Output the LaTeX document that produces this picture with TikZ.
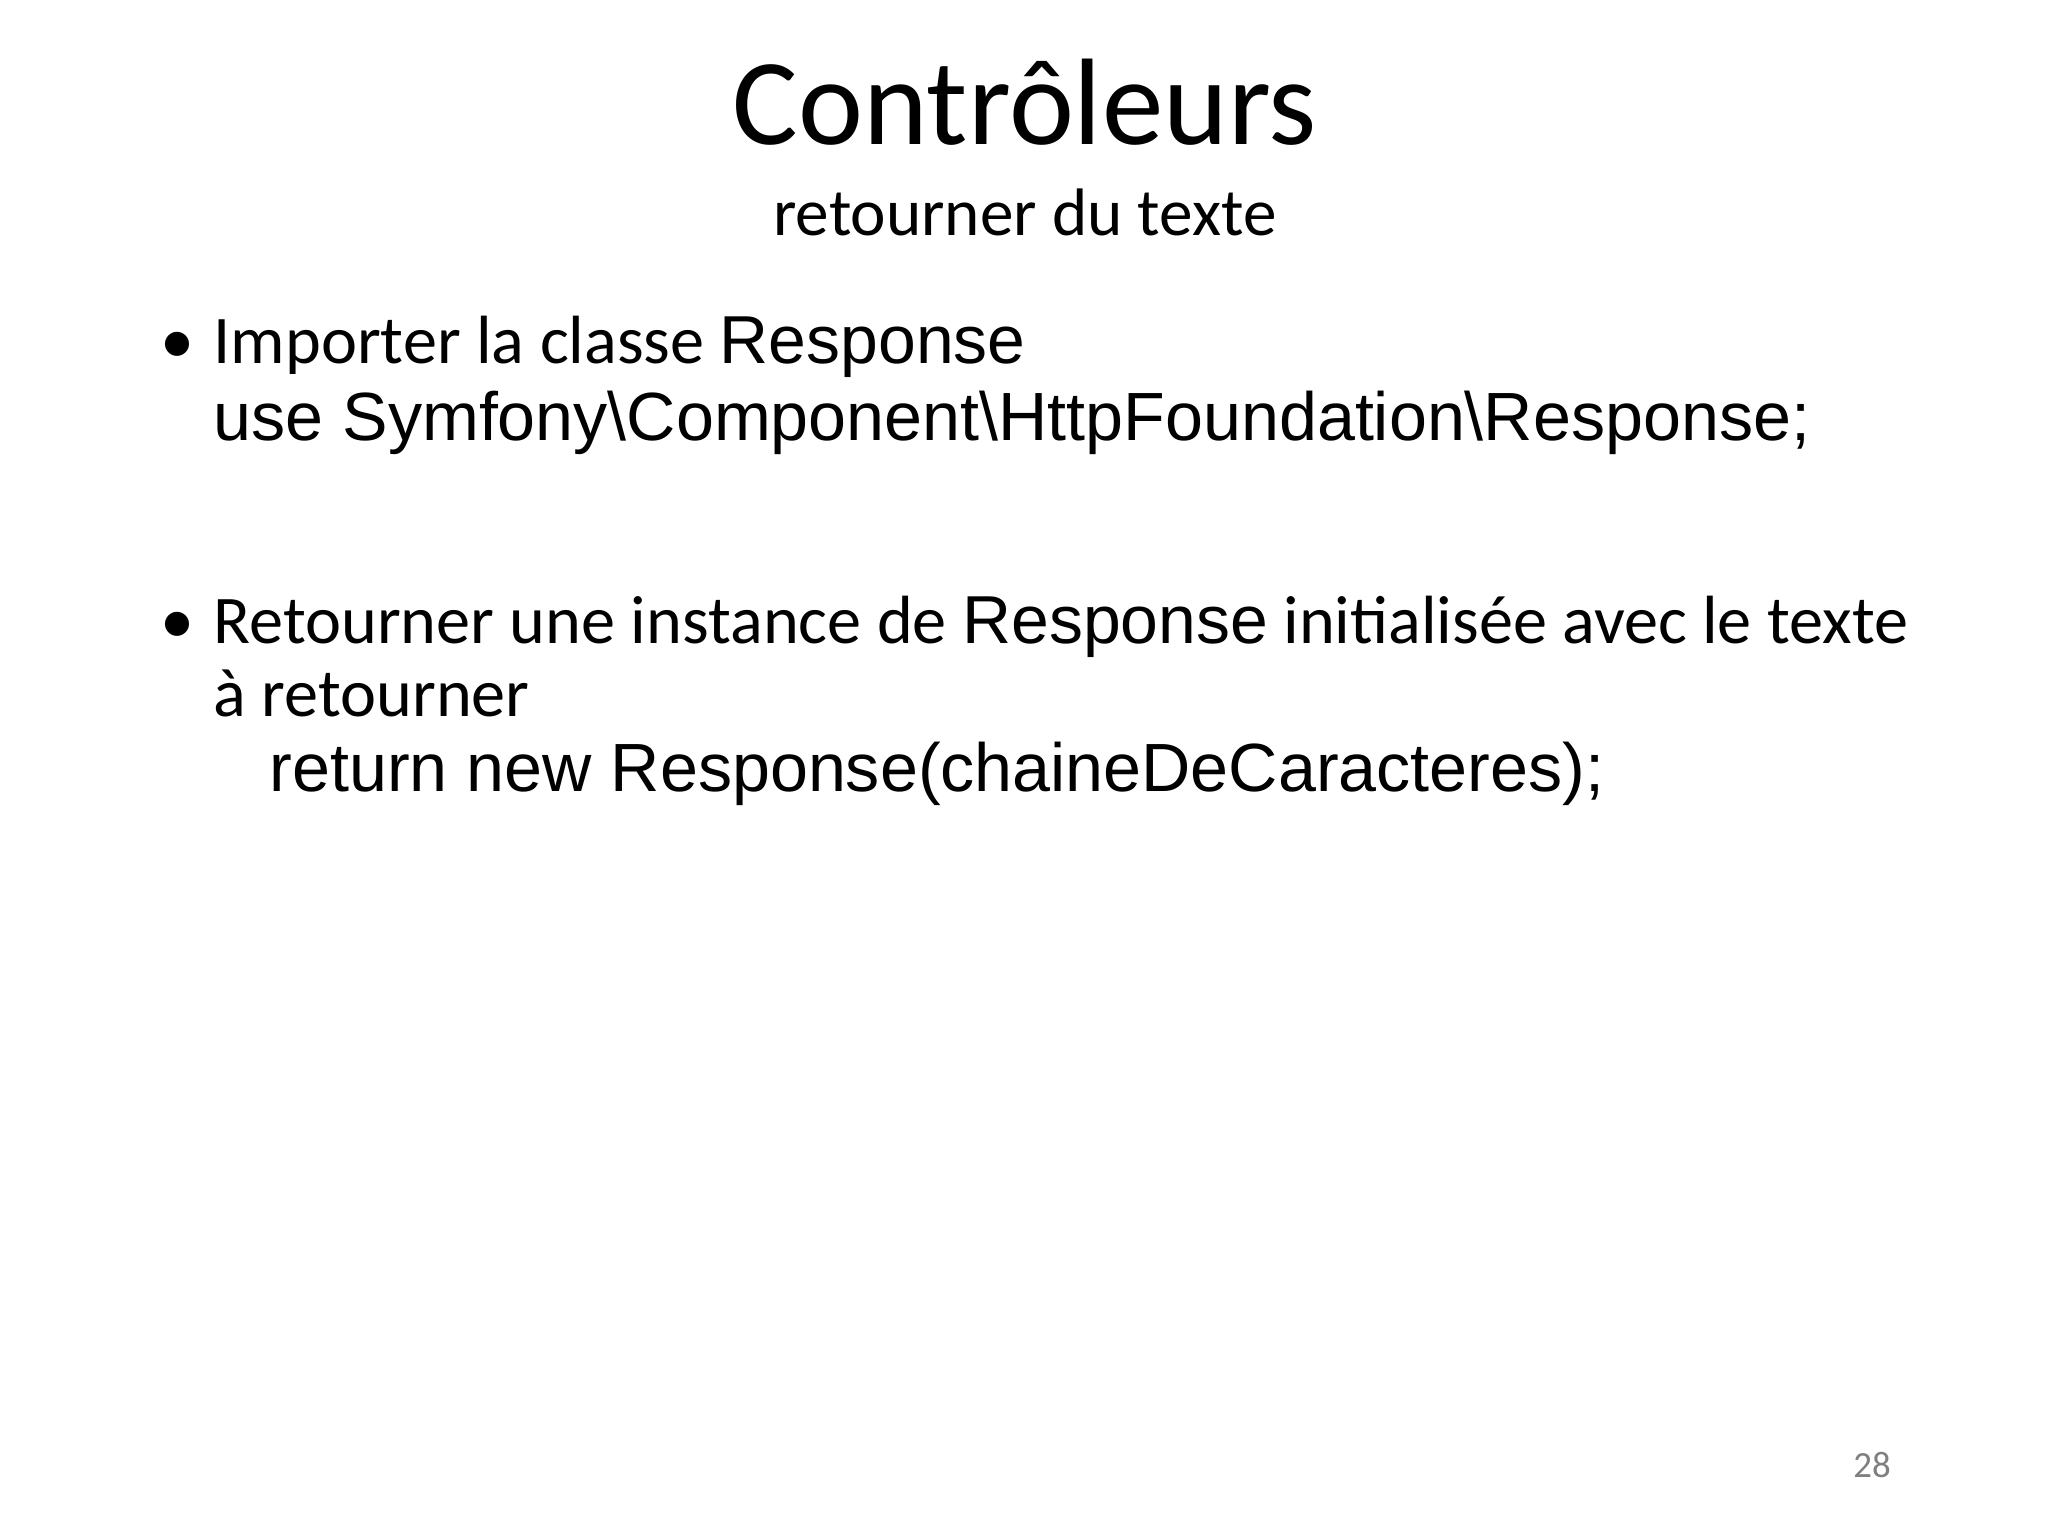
\documentclass[tikz,border=0pt]{standalone}
\usepackage{fontspec}
\setmainfont{Carlito}
\newfontfamily\arial{Liberation Sans}
\begin{document}
\begin{tikzpicture}[x=0.01cm,y=-0.01cm,
  txt/.style={anchor=base west,inner sep=0pt,font=\fontsize{19.4}{23}\selectfont}]
\useasboundingbox (0,0) rectangle (2048,1536);
\node[anchor=base,inner sep=0pt,font=\fontsize{35}{40}\selectfont] (title) at (1025,144) {Contrôleurs};
\node[anchor=base,inner sep=0pt,font=\fontsize{19.1}{22}\selectfont] (sub) at (1025,235) {retourner du texte};
\node[txt] (b1) at (160,363) {•};
\node[txt] (l1) at (213,363) {Importer la classe {\arial\fontsize{19.3}{22}\selectfont Response}};
\node[txt,font=\arial\fontsize{19.4}{22}\selectfont] (l2) at (213,440) {use Symfony\textbackslash Component\textbackslash HttpFoundation\textbackslash Response;};
\node[txt] (b2) at (160,643) {•};
\node[txt] (l3) at (213,643) {Retourner une instance de {\arial\fontsize{19.3}{22}\selectfont Response} initialisée avec le texte};
\node[txt] (l4) at (213,716) {à retourner};
\node[txt,font=\arial\fontsize{19.4}{22}\selectfont] (l5) at (269,791) {return new Response(chaineDeCaracteres);};
\node[anchor=base,inner sep=0pt,text=gray,font=\fontsize{10.5}{12}\selectfont] (pg) at (1872,1477) {28};
\end{tikzpicture}
\end{document}
